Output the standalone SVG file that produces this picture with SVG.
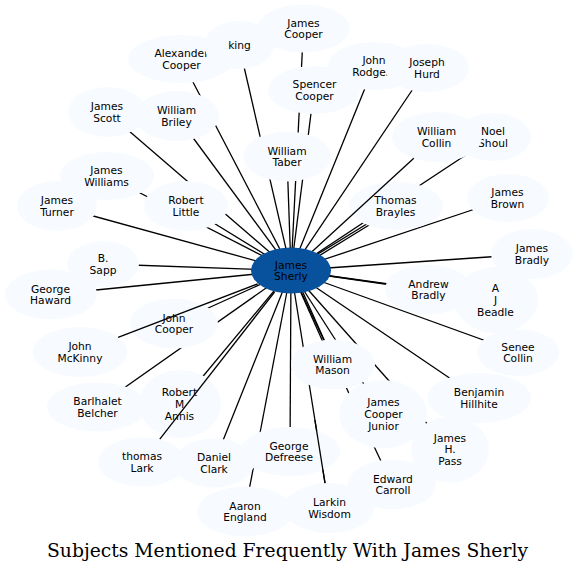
<svg xmlns="http://www.w3.org/2000/svg" width="577" height="573" viewBox="0 0 577 573">
<style>
.e{stroke:#000;stroke-width:1.3;fill:none}
.n{fill:#f7fbff;stroke:none}
.c{fill:#08519c;stroke:none}
.t{font-family:"DejaVu Sans","Liberation Sans",sans-serif;font-size:10.7px;text-anchor:middle;fill:#000}
.title{font-family:"DejaVu Serif","Liberation Serif",serif;font-size:19px;text-anchor:middle;fill:#000}
</style>
<rect width="577" height="573" fill="#fff"/>
<g id="connectors">
<line class="e" x1="291" y1="270.5" x2="303.5" y2="28.5"/>
<line class="e" x1="291" y1="270.5" x2="239" y2="45"/>
<line class="e" x1="291" y1="270.5" x2="181" y2="59"/>
<line class="e" x1="291" y1="270.5" x2="374" y2="66"/>
<line class="e" x1="291" y1="270.5" x2="427" y2="68"/>
<line class="e" x1="291" y1="270.5" x2="314" y2="90"/>
<line class="e" x1="291" y1="270.5" x2="107" y2="112"/>
<line class="e" x1="291" y1="270.5" x2="177" y2="116"/>
<line class="e" x1="291" y1="270.5" x2="493" y2="137"/>
<line class="e" x1="291" y1="270.5" x2="287" y2="156.5"/>
<line class="e" x1="291" y1="270.5" x2="107" y2="176"/>
<line class="e" x1="291" y1="270.5" x2="186" y2="206"/>
<line class="e" x1="291" y1="270.5" x2="57" y2="206"/>
<line class="e" x1="291" y1="270.5" x2="396" y2="206"/>
<line class="e" x1="292.2" y1="272.3" x2="397.2" y2="207.8"/>
<line class="e" x1="291" y1="270.5" x2="508" y2="198"/>
<line class="e" x1="291" y1="270.5" x2="103" y2="264"/>
<line class="e" x1="291" y1="270.5" x2="532" y2="254"/>
<line class="e" x1="291" y1="270.5" x2="51" y2="294.5"/>
<line class="e" x1="291" y1="270.5" x2="428" y2="289.5"/>
<line class="e" x1="291" y1="270.5" x2="496" y2="300"/>
<line class="e" x1="291" y1="270.5" x2="174" y2="323.5"/>
<line class="e" x1="291" y1="270.5" x2="518" y2="352.5"/>
<line class="e" x1="291" y1="270.5" x2="333" y2="364.5"/>
<line class="e" x1="292.8" y1="269.7" x2="334.8" y2="363.7"/>
<line class="e" x1="291" y1="270.5" x2="97" y2="407"/>
<line class="e" x1="291" y1="270.5" x2="180" y2="404"/>
<line class="e" x1="291" y1="270.5" x2="479" y2="398"/>
<line class="e" x1="291" y1="270.5" x2="383" y2="414"/>
<line class="e" x1="291" y1="270.5" x2="450" y2="449.5"/>
<line class="e" x1="291" y1="270.5" x2="214" y2="463"/>
<line class="e" x1="291" y1="270.5" x2="290" y2="451.5"/>
<line class="e" x1="291" y1="270.5" x2="392" y2="484.5"/>
<line class="e" x1="291" y1="270.5" x2="245" y2="511.5"/>
<line class="e" x1="291" y1="270.5" x2="329" y2="508"/>
</g>
<g id="nodes">
<g id="n-james-cooper"><ellipse class="n" cx="303.5" cy="28.5" rx="46" ry="24"/><text class="t" x="303.5" y="26.5">James<tspan x="303.5" dy="11.7">Cooper</tspan></text></g>
<g id="n-alexander-cooper"><ellipse class="n" cx="181" cy="59" rx="53" ry="24"/><text class="t" x="181.5" y="57">Alexander<tspan x="181.5" dy="11.7">Cooper</tspan></text></g>
<g id="n-king"><ellipse class="n" cx="239" cy="45" rx="35" ry="24"/><text class="t" x="239.5" y="48.5">king</text></g>
<g id="n-john-rodgers"><ellipse class="n" cx="374" cy="66" rx="46" ry="24"/><text class="t" x="374" y="64">John<tspan x="374" dy="11.7">Rodgers</tspan></text></g>
<g id="n-joseph-hurd"><ellipse class="n" cx="427" cy="68" rx="42" ry="24"/><text class="t" x="427" y="66">Joseph<tspan x="427" dy="11.7">Hurd</tspan></text></g>
<g id="n-spencer-cooper"><ellipse class="n" cx="314" cy="90" rx="46" ry="24"/><text class="t" x="314.5" y="88">Spencer<tspan x="314.5" dy="11.7">Cooper</tspan></text></g>
<g id="n-james-scott"><ellipse class="n" cx="107" cy="112" rx="39" ry="25"/><text class="t" x="107" y="110">James<tspan x="107" dy="11.7">Scott</tspan></text></g>
<g id="n-william-briley"><ellipse class="n" cx="177" cy="116" rx="42" ry="25"/><text class="t" x="176.5" y="114">William<tspan x="176.5" dy="11.7">Briley</tspan></text></g>
<g id="n-noel-shoul"><ellipse class="n" cx="493" cy="137" rx="38" ry="24"/><text class="t" x="493" y="135">Noel<tspan x="493" dy="11.7">Shoul</tspan></text></g>
<g id="n-william-collin"><ellipse class="n" cx="437" cy="137" rx="45" ry="25"/><text class="t" x="436.5" y="135">William<tspan x="436.5" dy="11.7">Collin</tspan></text></g>
<g id="n-william-taber"><ellipse class="n" cx="287" cy="156.5" rx="44" ry="25"/><text class="t" x="287" y="154.5">William<tspan x="287" dy="11.7">Taber</tspan></text></g>
<g id="n-james-williams"><ellipse class="n" cx="107" cy="176" rx="47" ry="24"/><text class="t" x="106.5" y="174">James<tspan x="106.5" dy="11.7">Williams</tspan></text></g>
<g id="n-james-turner"><ellipse class="n" cx="57" cy="206" rx="40" ry="25"/><text class="t" x="57" y="204">James<tspan x="57" dy="11.7">Turner</tspan></text></g>
<g id="n-robert-little"><ellipse class="n" cx="186" cy="206" rx="42" ry="25"/><text class="t" x="186" y="204">Robert<tspan x="186" dy="11.7">Little</tspan></text></g>
<g id="n-thomas-brayles"><ellipse class="n" cx="396" cy="206" rx="47" ry="24"/><text class="t" x="395.5" y="204">Thomas<tspan x="395.5" dy="11.7">Brayles</tspan></text></g>
<g id="n-james-brown"><ellipse class="n" cx="508" cy="198" rx="41" ry="24"/><text class="t" x="507.5" y="196">James<tspan x="507.5" dy="11.7">Brown</tspan></text></g>
<g id="n-b-sapp"><ellipse class="n" cx="103" cy="264" rx="36" ry="23"/><text class="t" x="103" y="262">B.<tspan x="103" dy="11.7">Sapp</tspan></text></g>
<g id="n-james-bradly"><ellipse class="n" cx="532" cy="254" rx="41" ry="25"/><text class="t" x="532" y="252">James<tspan x="532" dy="11.7">Bradly</tspan></text></g>
<g id="n-george-haward"><ellipse class="n" cx="51" cy="294.5" rx="46" ry="25"/><text class="t" x="50.5" y="292.5">George<tspan x="50.5" dy="11.7">Haward</tspan></text></g>
<g id="n-andrew-bradly"><ellipse class="n" cx="428" cy="289.5" rx="43" ry="25"/><text class="t" x="428.5" y="287.5">Andrew<tspan x="428.5" dy="11.7">Bradly</tspan></text></g>
<g id="n-a-j-beadle"><ellipse class="n" cx="496" cy="300" rx="42" ry="33"/><text class="t" x="495.5" y="292.2">A<tspan x="495.5" dy="11.7">J</tspan><tspan x="495.5" dy="11.7">Beadle</tspan></text></g>
<g id="n-john-cooper"><ellipse class="n" cx="174" cy="323.5" rx="44" ry="25"/><text class="t" x="174" y="321.5">John<tspan x="174" dy="11.7">Cooper</tspan></text></g>
<g id="n-john-mckinny"><ellipse class="n" cx="80" cy="352" rx="47" ry="25"/><text class="t" x="80" y="350">John<tspan x="80" dy="11.7">McKinny</tspan></text></g>
<g id="n-senee-collin"><ellipse class="n" cx="518" cy="352.5" rx="41" ry="23.5"/><text class="t" x="518" y="350.5">Senee<tspan x="518" dy="11.7">Collin</tspan></text></g>
<g id="n-barlhalet-belcher"><ellipse class="n" cx="97" cy="407" rx="50" ry="24.5"/><text class="t" x="97.5" y="405">Barlhalet<tspan x="97.5" dy="11.7">Belcher</tspan></text></g>
<g id="n-robert-m-annis"><ellipse class="n" cx="180" cy="404" rx="41" ry="34"/><text class="t" x="179.5" y="396.2">Robert<tspan x="179.5" dy="11.7">M</tspan><tspan x="179.5" dy="11.7">Annis</tspan></text></g>
<g id="n-benjamin-hillhite"><ellipse class="n" cx="479" cy="398" rx="52" ry="25"/><text class="t" x="479" y="396">Benjamin<tspan x="479" dy="11.7">Hillhite</tspan></text></g>
<g id="n-thomas-lark"><ellipse class="n" cx="142" cy="462" rx="44" ry="24.5"/><text class="t" x="142" y="460">thomas<tspan x="142" dy="11.7">Lark</tspan></text></g>
<g id="n-daniel-clark"><ellipse class="n" cx="214" cy="463" rx="40" ry="24.5"/><text class="t" x="214" y="461">Daniel<tspan x="214" dy="11.7">Clark</tspan></text></g>
<g id="n-george-defreese"><ellipse class="n" cx="290" cy="451.5" rx="50" ry="24.5"/><text class="t" x="289" y="449.5">George<tspan x="289" dy="11.7">Defreese</tspan></text></g>
</g>
<g id="connectors-over">
<line class="e" x1="257.7" y1="283.8" x2="118.1" y2="337.4"/>
<line class="e" x1="274.6" y1="292" x2="159.8" y2="439.1"/>
<line class="e" x1="312.2" y1="251.5" x2="413.8" y2="158.3"/>
<line class="e" x1="314.9" y1="420" x2="325" y2="483.1"/>
</g>
<g id="nodes-front">
<g id="n-william-mason"><ellipse class="n" cx="333" cy="364.5" rx="42" ry="25"/><text class="t" x="332.5" y="362.5">William<tspan x="332.5" dy="11.7">Mason</tspan></text></g>
<g id="n-james-cooper-junior"><ellipse class="n" cx="383" cy="414" rx="44" ry="34"/><text class="t" x="383.5" y="406.2">James<tspan x="383.5" dy="11.7">Cooper</tspan><tspan x="383.5" dy="11.7">Junior</tspan></text></g>
<g id="n-james-h-pass"><ellipse class="n" cx="450" cy="449.5" rx="39" ry="33"/><text class="t" x="450" y="441.7">James<tspan x="450" dy="11.7">H.</tspan><tspan x="450" dy="11.7">Pass</tspan></text></g>
<g id="n-edward-carroll"><ellipse class="n" cx="392" cy="484.5" rx="44" ry="25"/><text class="t" x="393" y="482.5">Edward<tspan x="393" dy="11.7">Carroll</tspan></text></g>
<g id="n-aaron-england"><ellipse class="n" cx="245" cy="511.5" rx="48" ry="25"/><text class="t" x="245" y="509.5">Aaron<tspan x="245" dy="11.7">England</tspan></text></g>
<g id="n-larkin-wisdom"><ellipse class="n" cx="329" cy="508" rx="45" ry="25"/><text class="t" x="329.5" y="506">Larkin<tspan x="329.5" dy="11.7">Wisdom</tspan></text></g>
<g id="n-james-sherly"><ellipse class="c" cx="291" cy="270.5" rx="40" ry="23"/><text class="t" x="291" y="268.5">James<tspan x="291" dy="11.7">Sherly</tspan></text></g>
</g>
<text class="title" x="287.5" y="557" textLength="481" lengthAdjust="spacingAndGlyphs">Subjects Mentioned Frequently With James Sherly</text>
</svg>
